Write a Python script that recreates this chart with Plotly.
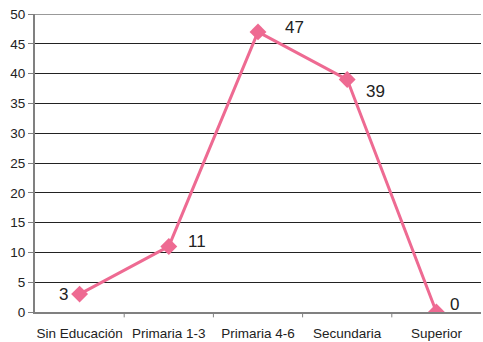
import plotly.graph_objects as go

categories = ["Sin Educación", "Primaria 1-3", "Primaria 4-6", "Secundaria", "Superior"]
values = [3, 11, 47, 39, 0]
y_ticks = [0, 5, 10, 15, 20, 25, 30, 35, 40, 45, 50]

color = "#EE6A92"
xs = list(range(len(categories)))

fig = go.Figure()
fig.add_trace(go.Scatter(
    x=xs, y=values, mode="lines+markers",
    line=dict(color=color, width=3),
    marker=dict(symbol="diamond", size=13, color=color),
    hoverinfo="skip", showlegend=False,
))
shifts = [(-16, 0), (28, 5), (36, 4), (28, -12), (18, 8)]
for x, v, (dx, dy) in zip(xs, values, shifts):
    fig.add_annotation(x=x, y=v, text=str(v), showarrow=False,
                       xshift=dx, yshift=dy,
                       font=dict(family="Liberation Sans, Arial", size=17, color="#222"))

fig.update_layout(
    width=483, height=342,
    margin=dict(l=35, r=2, t=14, b=30),
    paper_bgcolor="white", plot_bgcolor="white",
    font=dict(family="Liberation Sans, Arial", size=13.5, color="#222"),
)
fig.update_xaxes(
    tickmode="array", tickvals=xs, ticktext=categories,
    range=[-0.5, len(categories) - 0.5],
    showgrid=False, showline=True, linecolor="#808080", linewidth=2,
    ticks="", ticklabelstandoff=8, zeroline=False, fixedrange=True,
)
for b in [0.5, 1.5, 2.5, 3.5]:
    fig.add_shape(type="line", xref="x", yref="paper", x0=b, x1=b, y0=0, y1=-0.018,
                  line=dict(color="#808080", width=1))
fig.update_yaxes(
    range=[0, 50], tickvals=y_ticks,
    showgrid=True, gridcolor="#222", gridwidth=1,
    showline=True, linecolor="#808080", linewidth=2,
    ticks="outside", ticklen=5, tickcolor="#808080",
    zeroline=False, fixedrange=True,
)
fig.add_shape(type="line", xref="paper", yref="y", x0=0, x1=1, y0=50, y1=50,
              line=dict(color="#999", width=2))
fig.write_html("out.html")
